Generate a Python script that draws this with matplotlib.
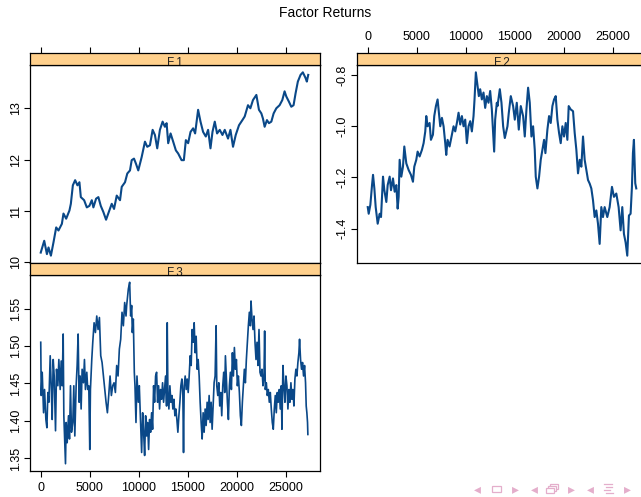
import matplotlib.pyplot as plt
import numpy as np
from matplotlib.patches import Rectangle
from matplotlib.lines import Line2D

plt.rcParams['font.family'] = ['Liberation Sans', 'DejaVu Sans']

# factor return series, observation index vs. value
t1 = [1, 356, 630, 792, 1036, 1300, 1575, 1808, 2154, 2316, 2591, 2926, 3068, 3272, 3505,
      3739, 3942, 4084, 4420, 4694, 4958, 5202, 5364, 5639, 5872, 6116, 6380, 6655, 6990, 7234,
      7468, 7742, 8077, 8250, 8585, 8819, 9093, 9266, 9500, 9703, 9936, 10109, 10282, 10617, 10851,
      11125, 11399, 11633, 11867, 12141, 12415, 12649, 12822, 12985, 13228, 13492, 13767, 14000, 14346, 14580,
      14783, 15016, 15260, 15524, 15727, 16032, 16276, 16540, 16815, 17048, 17292, 17496, 17729, 17963, 18237,
      18511, 18745, 19080, 19324, 19588, 19863, 20198, 20544, 20777, 21112, 21356, 21620, 21966, 22230, 22474,
      22636, 22809, 23043, 23246, 23490, 23724, 23998, 24333, 24608, 24841, 25014, 25278, 25522, 25756, 25959,
      26192, 26467, 26700, 26975, 27107, 27249]
f1 = [10.19, 10.42, 10.16, 10.29, 10.13, 10.39, 10.68, 10.62, 10.75, 10.95, 10.85, 11.01, 11.14, 11.50, 11.60,
      11.50, 11.56, 11.27, 11.21, 11.07, 11.10, 11.21, 11.07, 11.24, 11.27, 11.10, 10.98, 10.83, 11.01, 11.14,
      11.04, 11.30, 11.21, 11.47, 11.56, 11.73, 11.79, 11.99, 12.02, 11.92, 11.79, 11.92, 12.05, 12.35, 12.25,
      12.28, 12.58, 12.48, 12.22, 12.58, 12.74, 12.64, 12.71, 12.32, 12.51, 12.35, 12.18, 12.12, 11.99, 11.99,
      12.38, 12.32, 12.54, 12.61, 12.51, 12.97, 12.74, 12.54, 12.45, 12.58, 12.22, 12.54, 12.74, 12.51, 12.58,
      12.48, 12.58, 12.41, 12.58, 12.25, 12.48, 12.67, 12.77, 12.84, 13.06, 13.00, 13.16, 13.26, 12.97, 12.90,
      12.80, 12.64, 12.77, 12.71, 12.74, 12.90, 13.00, 13.06, 13.16, 13.33, 13.23, 13.13, 13.03, 13.06, 13.29,
      13.52, 13.65, 13.70, 13.59, 13.52, 13.65]

t2 = [1, 99, 268, 438, 539, 675, 810, 1014, 1217, 1353, 1556, 1692, 1895, 2031, 2234, 2370, 2573, 2743,
      2912, 3048, 3150, 3251, 3421, 3590, 3726, 3929, 4167, 4404, 4607, 4743, 4946, 5082, 5285, 5523,
      5692, 5862, 5963, 6099, 6302, 6438, 6641, 6777, 6946, 7116, 7218, 7387, 7557, 7726, 7896, 7997,
      8133, 8336, 8574, 8743, 8913, 9082, 9252, 9421, 9591, 9760, 9930, 10099, 10269, 10438, 10608,
      10777, 10879, 11014, 11184, 11319, 11455, 11625, 11794, 11964, 12133, 12303, 12472, 12642, 12811,
      12879, 12981, 13150,
      13217, 13455, 13624, 13794, 13963, 14234, 14370, 14573, 14811, 14980, 15183, 15387, 15590, 15828,
      15997, 16167, 16336, 16506, 16675, 16845, 17014, 17116, 17285, 17455, 17624, 17794, 17963, 18099,
      18302, 18472, 18641, 18811, 18980, 19150, 19319, 19489, 19658, 19828, 19997, 20167, 20336, 20472,
      20675, 20913, 21082, 21252, 21421, 21591, 21760, 21930, 22099, 22269, 22438, 22608, 22777, 22947,
      23116, 23286, 23455, 23625, 23794, 23964, 24133, 24404, 24642, 24879, 25082, 25320, 25557, 25760,
      25930, 26099, 26269, 26438, 26608, 26777, 26913, 27015, 27116, 27252, 27354]
f2 = [-1.316, -1.342, -1.307, -1.230, -1.190, -1.243, -1.316, -1.381, -1.342, -1.355, -1.197, -1.250,
      -1.296, -1.230, -1.197, -1.250, -1.204, -1.256, -1.230, -1.322, -1.276, -1.131, -1.197, -1.158,
      -1.079, -1.145, -1.171, -1.190, -1.217, -1.158, -1.131, -1.099, -1.118, -1.092, -1.066, -1.020,
      -0.960, -1.000, -0.987, -1.053, -1.033, -0.960, -0.921, -0.895, -0.934, -1.000, -0.967, -1.000,
      -1.066, -1.112, -1.053, -1.079, -1.033, -1.000, -1.020, -0.987, -0.947, -0.993, -0.960, -1.000,
      -0.974, -1.066, -1.000, -0.980, -1.020, -0.960, -0.895, -0.789, -0.842, -0.882, -0.855, -0.895,
      -0.868, -0.928, -0.882, -0.908, -0.862, -0.934, -1.053, -1.099, -0.974, -0.908,
      -0.921, -0.855, -0.908, -1.000, -1.046, -1.000, -0.947, -0.882, -0.921, -0.974, -0.908, -1.013,
      -0.921, -0.960, -1.040, -0.934, -0.849, -0.908, -1.040, -1.000, -1.092, -1.197, -1.243, -1.197,
      -1.131, -1.092, -1.053, -1.105, -1.013, -0.960, -0.987, -0.921, -0.895, -0.882, -0.974, -1.026,
      -1.066, -1.000, -1.040, -0.987, -1.053, -0.921, -0.934, -0.941, -1.026, -1.092, -1.184, -1.131,
      -1.158, -1.040, -1.131, -1.171, -1.210, -1.224, -1.243, -1.289, -1.355, -1.329, -1.381, -1.460,
      -1.316, -1.355, -1.316, -1.355, -1.316, -1.237, -1.276, -1.263, -1.316, -1.407, -1.316, -1.421,
      -1.454, -1.506, -1.349, -1.342, -1.237, -1.105, -1.053, -1.223, -1.243]

t3 = [1, 51, 152, 288, 389, 525, 627, 728, 830, 965, 1067, 1168, 1270, 1372, 1507, 1609, 1744, 1846,
      1981, 2083, 2185, 2286, 2354, 2523, 2591, 2693, 2828, 2930, 3031, 3133, 3268, 3370, 3472, 3607,
      3709, 3810, 3912, 4014, 4115, 4217, 4352, 4454, 4555, 4691, 4793, 4894, 4996, 5063, 5199, 5301,
      5436, 5572, 5707, 5842, 5978, 6113, 6249, 6384, 6520, 6655, 6791, 6926, 7062, 7197, 7333, 7468,
      7604, 7739, 7875, 8010, 8146, 8281, 8417, 8552, 8688,
      8754, 8924, 9059, 9161, 9262, 9330, 9432, 9533, 9601, 9703, 9804, 9940, 10041, 10143, 10279,
      10380, 10482, 10583, 10685, 10787, 10888, 10990, 11091, 11193, 11295, 11396, 11498, 11599, 11701,
      11803, 11904, 12006, 12107, 12209, 12311, 12412, 12514, 12615, 12717, 12819, 12886, 12954, 13056,
      13157, 13259, 13361, 13462, 13564, 13666, 13767, 13869, 13970, 14072, 14174, 14275, 14377, 14478,
      14546, 14614, 14715, 14817, 14919, 15020, 15122, 15224, 15325, 15427, 15528, 15630, 15732, 15833,
      15935, 16036, 16138, 16240, 16341, 16443, 16544, 16646, 16748, 16849, 16951, 17053, 17154, 17256,
      17357, 17459, 17561, 17662, 17764, 17865, 17933, 18035, 18136, 18237,
      18339, 18440, 18542, 18643, 18745, 18813, 18914, 19016, 19118, 19219, 19321, 19422, 19524, 19626,
      19727, 19829, 19931, 20032, 20134, 20235, 20337, 20439, 20540, 20642, 20743, 20845, 20947, 21048,
      21150, 21251, 21353, 21421, 21522, 21624, 21726, 21827, 21929, 22030, 22132, 22234, 22335, 22437,
      22538, 22640, 22742, 22809, 22877, 22979, 23080, 23182, 23284, 23385, 23487, 23589, 23690, 23792,
      23893, 23995, 24097, 24198, 24300, 24401, 24503, 24571, 24672, 24774, 24876, 24977, 25079, 25180,
      25282, 25384, 25485, 25587, 25688, 25790, 25892, 25993, 26095, 26196, 26298, 26366, 26467, 26569,
      26671, 26772, 26874, 26975, 27043, 27111, 27178, 27212]
f3 = [1.505, 1.434, 1.465, 1.411, 1.442, 1.402, 1.391, 1.438, 1.425, 1.487, 1.447, 1.402, 1.482, 1.460,
      1.387, 1.469, 1.447, 1.482, 1.442, 1.480, 1.447, 1.516, 1.407, 1.343, 1.398, 1.371, 1.407, 1.376,
      1.447, 1.385, 1.398, 1.447, 1.380, 1.447, 1.474, 1.516, 1.425, 1.460, 1.416, 1.469, 1.451, 1.482,
      1.442, 1.465, 1.442, 1.447, 1.362, 1.442, 1.482, 1.505, 1.531, 1.518, 1.540, 1.522, 1.538, 1.487,
      1.478, 1.460, 1.442, 1.425, 1.411, 1.434, 1.460, 1.434, 1.447, 1.451, 1.438, 1.474, 1.460, 1.496,
      1.509, 1.545, 1.527, 1.558, 1.540,
      1.554, 1.576, 1.585, 1.540, 1.554, 1.518, 1.536, 1.465, 1.447, 1.398, 1.460, 1.425, 1.447, 1.407,
      1.358, 1.411, 1.385, 1.354, 1.407, 1.380, 1.398, 1.362, 1.402, 1.385, 1.411, 1.389, 1.447, 1.425,
      1.460, 1.465, 1.425, 1.447, 1.416, 1.442, 1.429, 1.451, 1.425, 1.442, 1.460, 1.420, 1.531, 1.438,
      1.416, 1.447, 1.425, 1.434, 1.416, 1.429, 1.407, 1.416, 1.402, 1.385, 1.407, 1.425, 1.447, 1.456,
      1.434, 1.358, 1.447, 1.460, 1.442, 1.456, 1.438, 1.460, 1.487, 1.474, 1.522, 1.505, 1.531, 1.491,
      1.513, 1.469, 1.482, 1.460, 1.425, 1.398, 1.376, 1.411, 1.385, 1.416, 1.394, 1.425, 1.402, 1.434,
      1.398, 1.425, 1.389, 1.420, 1.451, 1.460, 1.527, 1.447, 1.434, 1.451, 1.420,
      1.438, 1.407, 1.447, 1.465, 1.438, 1.487, 1.456, 1.425, 1.402, 1.447, 1.465, 1.442, 1.491, 1.460,
      1.498, 1.469, 1.482, 1.447, 1.460, 1.438, 1.407, 1.394, 1.425, 1.447, 1.469, 1.451, 1.482, 1.505,
      1.527, 1.545, 1.527, 1.560, 1.536, 1.522, 1.540, 1.505, 1.482, 1.505, 1.474, 1.522, 1.465, 1.460,
      1.469, 1.447, 1.460, 1.520, 1.442, 1.451, 1.434, 1.442, 1.425, 1.438, 1.416, 1.398, 1.389, 1.416,
      1.434, 1.411, 1.438, 1.425, 1.442, 1.416, 1.447, 1.389, 1.474, 1.447, 1.425, 1.460, 1.447, 1.416,
      1.442, 1.425, 1.451, 1.429, 1.442, 1.420, 1.456, 1.469, 1.460, 1.478, 1.491, 1.509, 1.482, 1.469,
      1.478, 1.460, 1.474, 1.451, 1.420, 1.411, 1.398, 1.382]

names = ['F.1', 'F.2', 'F.3']
y_ticks = [[10, 11, 12, 13], [-1.4, -1.2, -1.0, -0.8], [1.35, 1.40, 1.45, 1.50, 1.55]]
x_ticks = [0, 5000, 10000, 15000, 20000, 25000]

line_col = '#0a4888'
strip_col = '#ffd08c'
W, H = 641.0, 497.0


def fbox(left, top, right, bottom):
    # pixel box -> figure fraction rect
    return [left / W, 1 - bottom / H, (right - left) / W, (bottom - top) / H]


def padded(v, frac=0.04):
    lo, hi = np.min(v), np.max(v)
    d = (hi - lo) * frac
    return lo - d, hi + d


fig = plt.figure(figsize=(6.41, 4.97), dpi=100)
fig.text(325 / W, 1 - 13 / H, 'Factor Returns', ha='center', va='center', fontsize=10)

xlim = padded(np.concatenate([t1, t2, t3]))

# (left, strip top, right, panel bottom)
boxes = [(30, 53, 320, 263), (357, 53, 647, 263), (30, 263, 320, 471)]
series = [(t1, f1), (t2, f2), (t3, f3)]

for i, (name, (t, f), (l, top, r, b)) in enumerate(zip(names, series, boxes)):
    ax = fig.add_axes(fbox(l, top + 12, r, b))
    ax.plot(t, f, color=line_col, lw=1.5 if i < 2 else 1.2)
    ax.set_xlim(xlim)
    ax.set_ylim(padded(f))
    ax.set_yticks(y_ticks[i])
    ax.set_yticklabels([f'{v:g}' if i == 0 else f'{v:.1f}' if i == 1 else f'{v:.2f}'
                        for v in y_ticks[i]])
    ax.set_xticks(x_ticks)
    ax.tick_params(axis='y', direction='out', length=4, width=0.8, labelsize=9, pad=2,
                   labelrotation=90)
    for lab in ax.get_yticklabels():
        lab.set_va('center')
    if i == 2:
        ax.tick_params(axis='x', direction='out', length=4, width=0.8, labelsize=9, pad=4)
    else:
        ax.tick_params(axis='x', bottom=False, labelbottom=False)
    for sp in ax.spines.values():
        sp.set_linewidth(0.9)

    st = fig.add_axes(fbox(l, top, r, top + 12))
    st.set_facecolor(strip_col)
    st.set_xlim(xlim)
    st.set_yticks([])
    st.set_xticks(x_ticks)
    if i < 2:
        st.tick_params(axis='x', top=True, bottom=False, labelbottom=False,
                       labeltop=(i == 1), direction='out', length=4, width=0.8,
                       labelsize=9, pad=3)
    else:
        st.tick_params(axis='x', bottom=False, labelbottom=False)
    for sp in st.spines.values():
        sp.set_linewidth(0.9)
    st.text(0.5, 0.2, name, transform=st.transAxes, ha='center', va='center',
            fontsize=8.5, color='#222222', clip_on=True)

# navigation symbols in the lower right corner
nav_col = '#e4aecb'
ny = 1 - 489 / H
for xp, s in [(477, '◂'), (515, '▸'), (534, '◂'), (571, '▸'), (590, '◂'), (627, '▸')]:
    fig.text(xp / W, ny, s, ha='center', va='center', fontsize=10, color=nav_col,
             family='DejaVu Sans')
fig.patches.append(Rectangle((491.5 / W, 1 - 492 / H), 9 / W, 6 / H, fill=False,
                             ec=nav_col, lw=0.9, transform=fig.transFigure))
for dx, dy in [(4, -4), (2, -2), (0, 0)]:
    fig.patches.append(Rectangle(((546 + dx) / W, 1 - (493 + dy) / H), 8 / W, 5 / H,
                                 fc='white', ec=nav_col, lw=0.9, transform=fig.transFigure))
for k, (x0, x1) in enumerate([(604, 612), (606, 612), (604, 610), (606, 613)]):
    yy = 1 - (484 + 3 * k) / H
    fig.lines.append(Line2D([x0 / W, x1 / W], [yy, yy], color=nav_col, lw=0.9,
                            transform=fig.transFigure))

fig.savefig('out.png', dpi=100)
